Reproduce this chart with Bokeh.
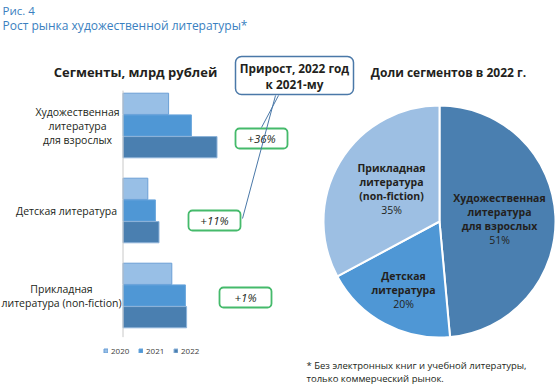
import math
from bokeh.plotting import figure
from bokeh.models import Range1d, BoxAnnotation, ColumnDataSource, Legend, LegendItem
from bokeh.core.properties import value
from bokeh.embed import file_html
from bokeh.resources import INLINE
from bokeh.transform import dodge

# ---------------- data ----------------
fig_number = "Рис. 4"
fig_title = "Рост рынка художественной литературы*"
bar_title = "Сегменты, млрд рублей"
pie_title = "Доли сегментов в 2022 г."
categories = ["Художественная\nлитература\nдля взрослых",
              "Детская литература",
              "Прикладная\nлитература (non-fiction)"]
years = ["2020", "2021", "2022"]
values_2020 = [11.4, 6.2, 12.2]
values_2021 = [17.1, 8.1, 15.6]
values_2022 = [23.5, 9.0, 15.9]
growth_labels = ["+36%", "+11%", "+1%"]
callout_text = ["Прирост, 2022 год", "к 2021-му"]
pie_names = ["Художественная\nлитература\nдля взрослых",
             "Детская\nлитература",
             "Прикладная\nлитература\n(non-fiction)"]
pie_pct_labels = ["51%", "20%", "35%"]
footnote = ["* Без электронных книг и учебной литературы,",
            "только коммерческий рынок."]

# ---------------- styles / layout ----------------
FONT = "Open Sans"
DARK = "#231f20"
BLUE_T = "#3a7fc0"
bar_colors = ["#98bfe6", "#4f97d5", "#4a7fb0"]
bar_lines = ["#6a9fd6", "#6aa6dc", "#8db3d9"]
pie_colors = ["#4a7fb0", "#4f97d5", "#9dbfe3"]
GREEN = "#45ba6b"
CALL = "#4a78a8"

W, H = 560, 387
p = figure(width=W, height=H, output_backend="svg", toolbar_location=None,
           x_range=Range1d(0, W), y_range=Range1d(H, 0),
           min_border=0, outline_line_color=None, background_fill_color="white")
p.axis.visible = False
p.grid.visible = False

# bar scales: value 0 at x=122.5, 4 px per unit; group i centre at y=125+85*i
X0, PXU = 122.5, 4.0
Y0, GAP = 125.0, 85.0
p.extra_x_ranges = {"val": Range1d((0 - X0) / PXU, (W - X0) / PXU)}
p.extra_y_ranges = {"cat": Range1d((H - Y0) / GAP, (0 - Y0) / GAP)}

src = ColumnDataSource(dict(pos=list(range(len(categories))),
                            v2020=values_2020, v2021=values_2021, v2022=values_2022))
offsets = [-0.255, 0.0, 0.255]
bar_renderers = []
for j, (yr, col) in enumerate(zip(years, ["v2020", "v2021", "v2022"])):
    r = p.hbar(y=dodge("pos", offsets[j]), left=0, right=col, height=0.25, source=src,
               x_range_name="val", y_range_name="cat",
               fill_color=bar_colors[j], line_color=bar_lines[j], line_width=1)
    bar_renderers.append(r)

# axis line
p.segment(x0=[0], x1=[0], y0=[-0.41], y1=[2.49], x_range_name="val", y_range_name="cat",
          line_color="#c8c8c8", line_width=1)

# category labels (each line centred)
label_cx = [77, 66, 61]
LH = 14.0 / GAP
lx, ly, lt = [], [], []
for i, cat in enumerate(categories):
    lines = cat.split("\n")
    n = len(lines)
    for k, ln in enumerate(lines):
        lx.append(label_cx[i]); ly.append(i + (k - (n - 1) / 2) * LH); lt.append(ln)
p.text(x=lx, y=ly, text=lt, y_range_name="cat", text_align="center", text_baseline="middle",
       text_font=value(FONT), text_font_size="10.5px", text_color=DARK)

# legend
legend = Legend(items=[LegendItem(label=yr, renderers=[r]) for yr, r in zip(years, bar_renderers)],
                orientation="horizontal", location=(103, 31), glyph_width=5, glyph_height=5,
                label_text_font=FONT, label_text_font_size="8px", label_text_color="#404040",
                label_height=8, label_standoff=3, spacing=7, padding=0, margin=0,
                border_line_color=None, background_fill_alpha=0)
p.add_layout(legend, "center")

# titles
p.text(x=[2, 2], y=[10, 25], text=[fig_number, fig_title], text_baseline="middle",
       text_font=value(FONT), text_font_size=["11.5px", "12px"], text_color=BLUE_T)
p.text(x=[135, 448], y=[71, 72], text=[bar_title, pie_title], text_align="center",
       text_baseline="middle", text_font=value(FONT), text_font_size=["13px", "12px"],
       text_font_style="bold", text_color=DARK)

# callout
p.add_layout(BoxAnnotation(left=235, right=353, top=56, bottom=94, border_radius=6,
                           fill_color="white", fill_alpha=1, line_color=CALL, line_alpha=1,
                           line_width=1.5, level="underlay"))
p.text(x=[294, 294], y=[67, 83], text=callout_text, text_align="center", text_baseline="middle",
       text_font=value(FONT), text_font_size="11.8px", text_font_style="bold", text_color=DARK)
p.segment(x0=[278, 275], y0=[95, 95], x1=[261, 242], y1=[127, 218],
          line_color=CALL, line_width=1, level="overlay")

# growth boxes
gl = [235, 188, 219]
gt = [128, 210, 287]
GW, GH = 52, 20
for l, t in zip(gl, gt):
    p.add_layout(BoxAnnotation(left=l, right=l + GW, top=t, bottom=t + GH, border_radius=4,
                               fill_color="white", fill_alpha=1, line_color=GREEN,
                               line_alpha=1, line_width=1.8, level="underlay"))
p.text(x=[l + GW / 2 for l in gl], y=[t + GH / 2 for t in gt], text=growth_labels,
       text_align="center", text_baseline="middle", text_font=value(FONT),
       text_font_size="11.5px", text_font_style="italic", text_color=DARK)

# pie from 2022 values
tot = sum(values_2022)
cum = 0.0
starts, ends = [], []
for v in values_2022:
    starts.append(math.pi / 2 - 2 * math.pi * cum / tot)
    cum += v
    ends.append(math.pi / 2 - 2 * math.pi * cum / tot)
p.wedge(x=439, y=221, radius=116, radius_units="screen", start_angle=ends, end_angle=starts,
        direction="anticlock", fill_color=pie_colors, line_color="white", line_width=2)

pie_lx = [499, 403, 391]
pie_ly = [197, 275, 167]
PLH = 14.3
nx, ny, nt, px_, py_ = [], [], [], [], []
for i, nm in enumerate(pie_names):
    lines = nm.split("\n")
    for k, ln in enumerate(lines):
        nx.append(pie_lx[i]); ny.append(pie_ly[i] + k * PLH); nt.append(ln)
    px_.append(pie_lx[i]); py_.append(pie_ly[i] + len(lines) * PLH)
p.text(x=nx, y=ny, text=nt, text_align="center", text_baseline="middle",
       text_font=value(FONT), text_font_size="10.5px", text_font_style="bold", text_color=DARK)
p.text(x=px_, y=py_, text=pie_pct_labels, text_align="center", text_baseline="middle",
       text_font=value(FONT), text_font_size="10.5px", text_color=DARK)

# footnote
p.text(x=[306, 306], y=[365, 378], text=footnote, text_baseline="middle",
       text_font=value(FONT), text_font_size="9.5px", text_color=DARK)

open("out.html", "w").write(file_html(p, INLINE))
